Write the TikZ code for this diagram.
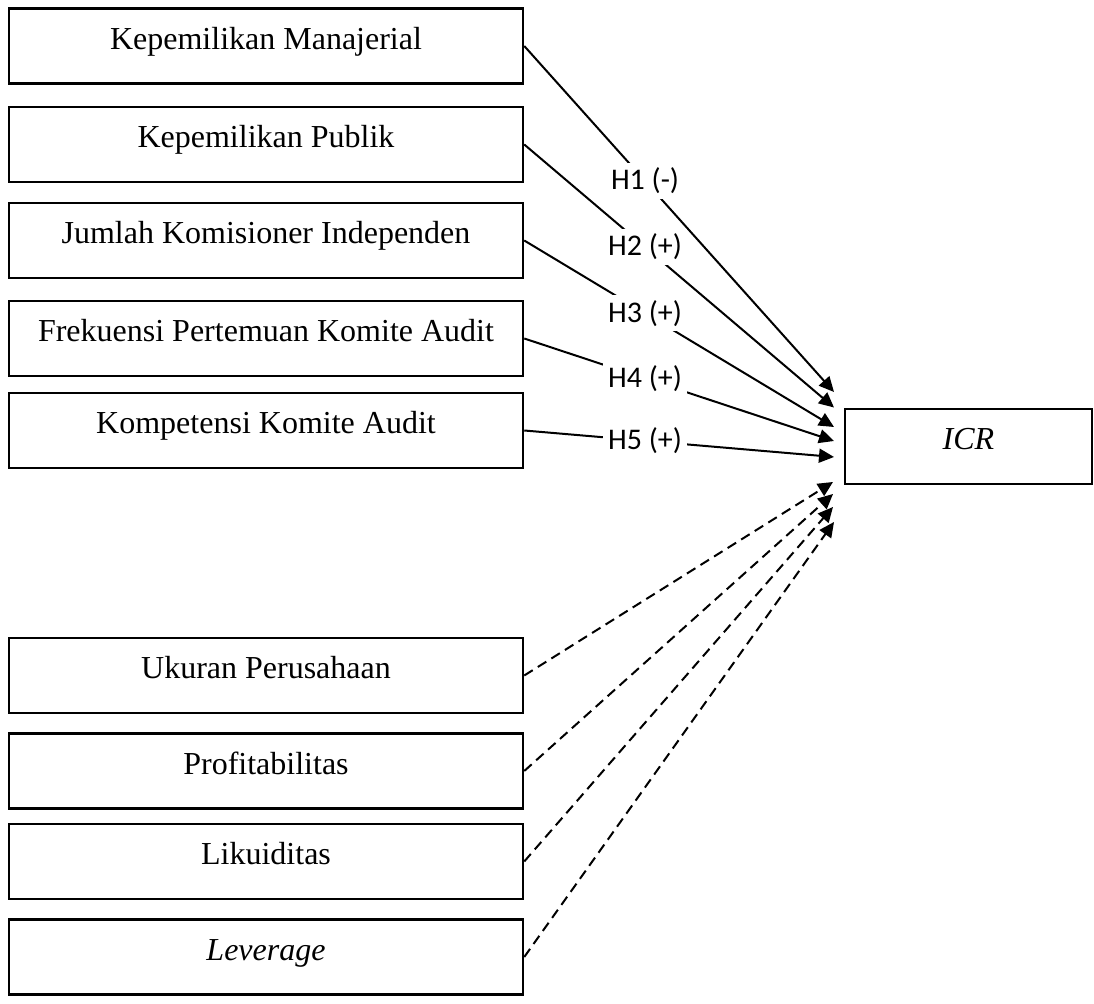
\documentclass[tikz,border=0pt]{standalone}
\usepackage{fontspec}
\setmainfont{Liberation Serif}
\newfontfamily\hipfont{Carlito}
\usetikzlibrary{arrows.meta}

\begin{document}
\begin{tikzpicture}[x=0.5pt,y=0.5pt,
    kotak/.style={draw,line width=1.25pt,minimum width=257pt,minimum height=37.5pt,
        inner sep=0pt,text height=12pt,text depth=8.5pt,font=\fontsize{16}{19}\selectfont},
    hip/.style={fill=white,inner sep=2.5pt,font=\hipfont\fontsize{15}{18}\selectfont},
    panah/.style={line width=1pt,-{Triangle[length=7.5pt,width=7pt]}},
    putus/.style={panah,dash pattern=on 5pt off 3pt}]
    \useasboundingbox (0,0) rectangle (1094,-1004);

    % variabel independen
    \node[kotak] (km) at (266,-46) {Kepemilikan Manajerial};
    \node[kotak] (kp) at (266,-144.5) {Kepemilikan Publik};
    \node[kotak] (jki) at (266,-240.5) {Jumlah Komisioner Independen};
    \node[kotak] (fpka) at (266,-338.5) {Frekuensi Pertemuan Komite Audit};
    \node[kotak] (kka) at (266,-430.5) {Kompetensi Komite Audit};

    % variabel dependen
    \node[kotak,minimum width=123.5pt] (icr) at (968.5,-446.5) {\textit{ICR}};

    % variabel kontrol
    \node[kotak] (up) at (266,-675.5) {Ukuran Perusahaan};
    \node[kotak] (prof) at (266,-771) {Profitabilitas};
    \node[kotak] (lik) at (266,-861.5) {Likuiditas};
    \node[kotak] (lev) at (266,-957) {\textit{Leverage}};

    % ujung panah di depan ICR
    \coordinate (t1) at (834,-392);
    \coordinate (t2) at (834,-407.5);
    \coordinate (t3) at (834,-427);
    \coordinate (t4) at (834,-441);
    \coordinate (t5) at (834,-457);
    \coordinate (d1) at (833,-482);
    \coordinate (d2) at (833,-494);
    \coordinate (d3) at (833,-507);
    \coordinate (d4) at (834,-522);

    \draw[panah] (km.east) -- node[hip,pos=0.39] {H1 (-)} (t1);
    \draw[panah] (kp.east) -- node[hip,pos=0.39] {H2 (+)} (t2);
    \draw[panah] (jki.east) -- node[hip,pos=0.39] {H3 (+)} (t3);
    \draw[panah] (fpka.east) -- node[hip,pos=0.39] {H4 (+)} (t4);
    \draw[panah] (kka.east) -- node[hip,pos=0.39] {H5 (+)} (t5);

    % garis putus-putus untuk kontrol
    \draw[putus] (up.east) -- (d1);
    \draw[putus] (prof.east) -- (d2);
    \draw[putus] (lik.east) -- (d3);
    \draw[putus] (lev.east) -- (d4);
\end{tikzpicture}
\end{document}
